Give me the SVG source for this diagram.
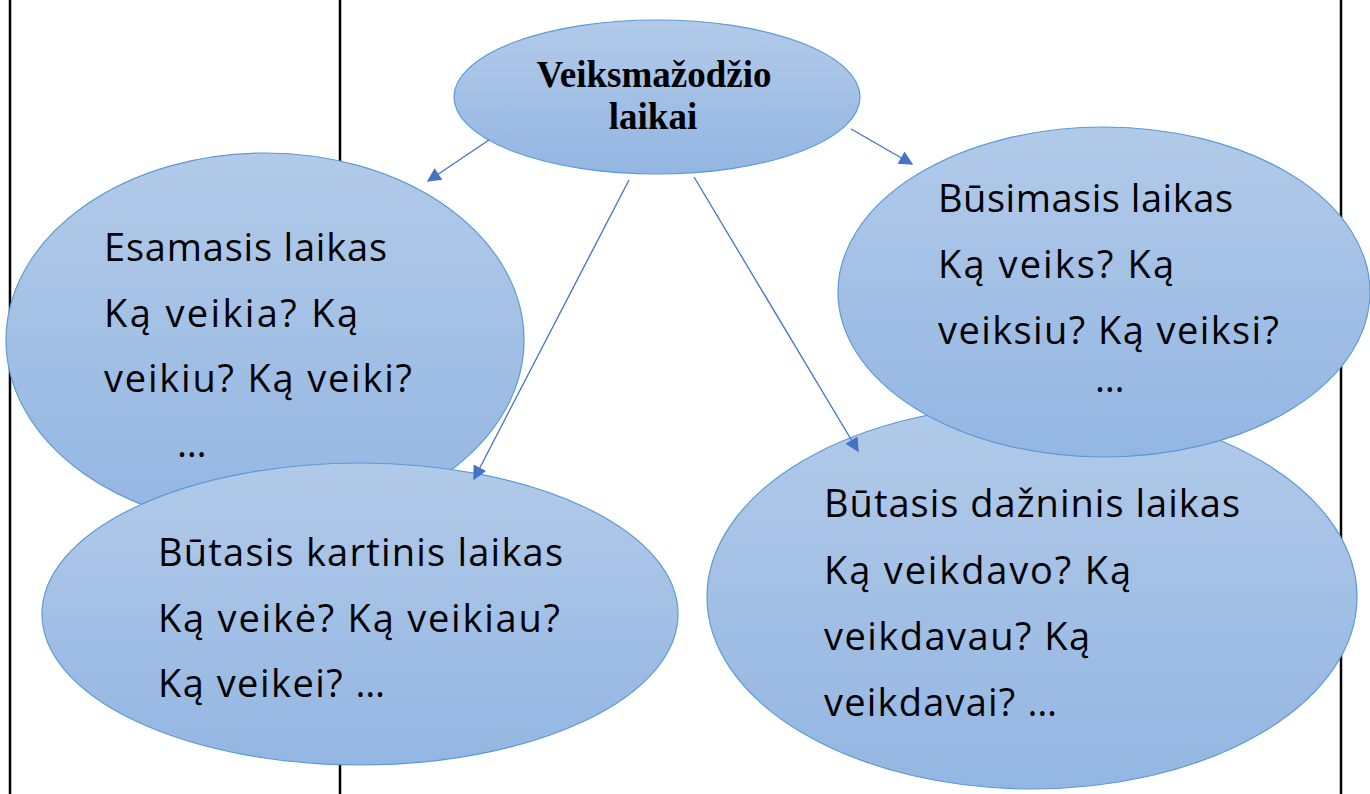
<svg xmlns="http://www.w3.org/2000/svg" width="1370" height="794" viewBox="0 0 1370 794">
<style>
.tbl{stroke:#000;stroke-width:2.5;fill:none}
.ell{fill:url(#g);stroke:#5b9bd5;stroke-width:1.2}
.hand{font-family:"Open Sans","DejaVu Sans",sans-serif;font-size:38px;fill:#000}
.title{font-family:"Liberation Serif","Times New Roman",serif;font-size:37px;font-weight:bold;fill:#000;text-anchor:middle}
.conn{stroke:#4472c4;stroke-width:1.3;fill:none;marker-end:url(#ah)}
</style>
<defs>
<linearGradient id="g" x1="0" y1="0" x2="0" y2="1">
<stop offset="0" stop-color="#b2cae9"/>
<stop offset="1" stop-color="#93b6e2"/>
</linearGradient>
<marker id="ah" viewBox="0 0 10 10" refX="9" refY="5" markerWidth="15" markerHeight="14" markerUnits="userSpaceOnUse" orient="auto">
<path d="M0,0 L10,5 L0,10 z" fill="#4472c4"/>
</marker>
</defs>
<g id="table">
<line class="tbl" x1="10" y1="0" x2="10" y2="794"/>
<line class="tbl" x1="340" y1="0" x2="340" y2="794"/>
<line class="tbl" x1="1341" y1="0" x2="1341" y2="794"/>
</g>
<g id="esamasis">
<ellipse class="ell" cx="265" cy="340" rx="259" ry="187"/>
<text class="hand" x="104" y="261" textLength="283" lengthAdjust="spacing">Esamasis laikas</text>
<text class="hand" x="104" y="327" textLength="254" lengthAdjust="spacing">Ką veikia? Ką</text>
<text class="hand" x="104" y="392" textLength="308" lengthAdjust="spacing">veikiu? Ką veiki?</text>
<text class="hand" x="177" y="457">…</text>
</g>
<g id="kartinis">
<ellipse class="ell" cx="360" cy="614" rx="318" ry="151"/>
<text class="hand" x="158" y="566" textLength="405" lengthAdjust="spacing">Būtasis kartinis laikas</text>
<text class="hand" x="158" y="632" textLength="402" lengthAdjust="spacing">Ką veikė? Ką veikiau?</text>
<text class="hand" x="158" y="697" textLength="227" lengthAdjust="spacing">Ką veikei? …</text>
</g>
<g id="dazninis">
<ellipse class="ell" cx="1032" cy="597" rx="325" ry="192"/>
<text class="hand" x="824" y="517" textLength="416" lengthAdjust="spacing">Būtasis dažninis laikas</text>
<text class="hand" x="824" y="584" textLength="307" lengthAdjust="spacing">Ką veikdavo? Ką</text>
<text class="hand" x="824" y="650" textLength="266" lengthAdjust="spacing">veikdavau? Ką</text>
<text class="hand" x="824" y="716" textLength="233" lengthAdjust="spacing">veikdavai? …</text>
</g>
<g id="busimasis">
<ellipse class="ell" cx="1104" cy="292" rx="266" ry="165"/>
<text class="hand" x="938" y="212" textLength="295" lengthAdjust="spacing">Būsimasis laikas</text>
<text class="hand" x="938" y="278" textLength="236" lengthAdjust="spacing">Ką veiks? Ką</text>
<text class="hand" x="938" y="344" textLength="341" lengthAdjust="spacing">veiksiu? Ką veiksi?</text>
<text class="hand" x="1095" y="392">…</text>
</g>
<g id="root">
<ellipse class="ell" cx="657" cy="97" rx="203" ry="77"/>
<text class="title" x="654" y="87">Veiksmažodžio</text>
<text class="title" x="653" y="129">laikai</text>
</g>
<g id="connectors">
<line class="conn" x1="489" y1="140" x2="428" y2="181"/>
<line class="conn" x1="629" y1="180" x2="474" y2="479"/>
<line class="conn" x1="694" y1="177" x2="858" y2="451"/>
<line class="conn" x1="851" y1="129" x2="912" y2="164"/>
</g>
</svg>
